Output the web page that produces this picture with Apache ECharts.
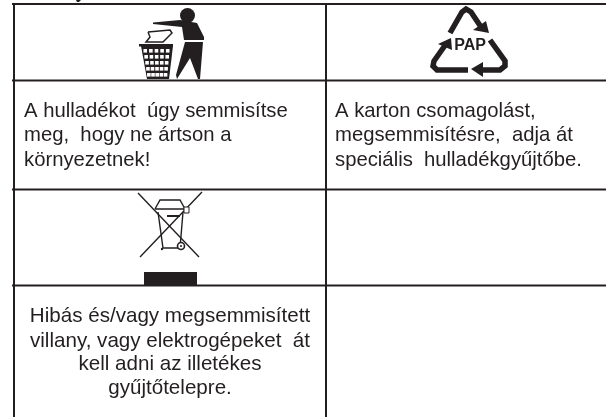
<!DOCTYPE html>
<html>
<head>
<meta charset="utf-8">
<title>hulladék</title>
<style>
	html,body{margin:0;padding:0;background:#fff;}
	#main{width:606px;height:417px;}
</style>
<script src="https://cdn.jsdelivr.net/npm/echarts@6/dist/echarts.min.js"></script>
</head>
<body>
<div id="main"></div>
<script>
// cell texts, one entry per printed line
var textTopLeft=['A hulladékot  úgy semmisítse','meg,  hogy ne ártson a','környezetnek!'];
var textTopRight=['A karton csomagolást,','megsemmisítésre,  adja át','speciális  hulladékgyűjtőbe.'];
var textBottomLeft=['Hibás és/vagy megsemmisített','villany, vagy elektrogépeket  át','kell adni az illetékes','gyűjtőtelepre.'];
var recycleLabel=['PAP'];

var ink='#231f20';
var elements=[];

function line(x1,y1,x2,y2,w,color){
	elements.push({type:'line',shape:{x1:x1,y1:y1,x2:x2,y2:y2},style:{stroke:color||ink,lineWidth:w||2}});
}
function poly(points,fill){
	elements.push({type:'polygon',shape:{points:points},style:{fill:fill||ink}});
}
function stroke(points,w,join){
	elements.push({type:'polyline',shape:{points:points},style:{fill:'none',stroke:ink,lineWidth:w,lineJoin:join||'miter'}});
}
function rect(x,y,w,h,fill){
	elements.push({type:'rect',shape:{x:x,y:y,width:w,height:h},style:{fill:fill||ink}});
}
function circle(cx,cy,r,fill,sColor,sWidth){
	elements.push({type:'circle',shape:{cx:cx,cy:cy,r:r},style:{fill:fill,stroke:sColor,lineWidth:sWidth||0}});
}
function label(list,x,baselines,align,size,bold){
	list.forEach(function(t,i){
		elements.push({type:'text',x:x,y:baselines[i],style:{
			text:t,
			fill:ink,
			align:align,
			verticalAlign:'bottom',
			font:(bold?'bold ':'')+size+'px "Liberation Sans", Arial, sans-serif'
		}});
	});
}

// 表格线
[4,80.5,189.5,285.5].forEach(function(y){ line(12,y,606,y,2); });
line(14,4,14,417,2);
line(326,4,326,417,2);
// remains of the line cut off above the table
poly([[76,0],[81,0],[79,2],[77,2]]);

// 文字
label(textTopLeft,24,[121,145,170],'left',20.3);
label(textTopRight,335,[121,145,170],'left',20.3);
label(textBottomLeft,170,[327,351.5,374.5,399],'center',20.6);

// litter man
circle(187.5,15.5,7.5,ink);
poly([[153,22.5],[180,20],[197,23],[204,37],[204,40],[184,40],[182,27],[153,24]]);
poly([[185,42],[203,42],[200,79],[198,79],[190,58],[177,79],[176,75]]);
// paper
poly([[148,32],[170,30],[172,33],[163,42],[146,42],[150,37]],'#fff');
stroke([[148,32],[170,30],[172,33],[163,42],[146,42],[150,37],[148,32]],1.5);
// basket
rect(139,44,34,2.5);
poly([[141,46],[173,46],[169,79],[147,79]]);
for(var r=0;r<5;r++){
	var rowY=49+r*6;
	var inset=(rowY-46)*0.15;
	for(var c=0;c<5;c++){
		rect(143+inset+c*(29-2*inset)/5,rowY,3.6,3.6,'#fff');
	}
}

// recycle triangle
var ax=303;
stroke([[ax+147,33],[ax+159,12],[ax+163,9],[ax+168,12],[ax+178,27]],5.5);
poly([[ax+170,30],[ax+186,33],[ax+183,21]]);
stroke([[ax+165,70],[ax+134,70],[ax+130,66],[ax+131,61],[ax+143,44]],5.5);
poly([[ax+135,44],[ax+148,38],[ax+149,50]]);
stroke([[ax+187,40],[ax+202,61],[ax+202,66],[ax+197,70],[ax+178,70]],5.5);
poly([[ax+180,62],[ax+168,69],[ax+180,77]]);
label(recycleLabel,ax+167,[53.5],'center',16,true);

// crossed out wheelie bin
line(140,257,202,192,1.4);
line(199,257,138,193,1.4);
stroke([[158,212],[163,248],[180,248],[183,212]],1.4);
poly([[157,205],[183,205],[186,209],[154,209]],'#fff');
stroke([[155,209],[160,200],[180,200],[185,209],[155,209]],1.4);
rect(167,215,13,2);
rect(184,207,5,6,'#fff');
stroke([[184,207],[189,207],[189,213],[184,213],[184,207]],1);
circle(181,246,3.5,'#fff',ink,1.6);
circle(181,246,1,ink);
circle(162,249,1.2,ink);
rect(144,272,53,13);

var chart=echarts.init(document.getElementById('main'),null,{renderer:'canvas'});
chart.setOption({
	animation:false,
	backgroundColor:'#fff',
	graphic:{elements:elements}
});
</script>
</body>
</html>
